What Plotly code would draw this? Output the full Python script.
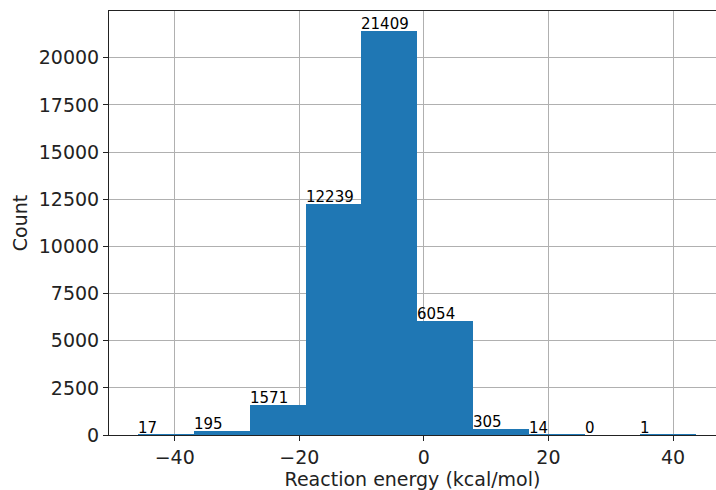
import plotly.graph_objects as go

# Histogram of reaction energies: bin edges (kcal/mol) and counts per bin
bin_edges = [-45.86, -36.90, -27.94, -18.98, -10.03, -1.07, 7.89, 16.85, 25.80, 34.76, 43.72]
counts = [17, 195, 1571, 12239, 21409, 6054, 305, 14, 0, 1]

x_ticks = [-40, -20, 0, 20, 40]
y_ticks = [0, 2500, 5000, 7500, 10000, 12500, 15000, 17500, 20000]

centers = [(a + b) / 2 for a, b in zip(bin_edges[:-1], bin_edges[1:])]
widths = [b - a for a, b in zip(bin_edges[:-1], bin_edges[1:])]

FONT = "DejaVu Sans"
TICK_SIZE = 19

fig = go.Figure(
    go.Bar(
        x=centers,
        y=counts,
        width=widths,
        marker=dict(color="#1f77b4", line=dict(width=0)),
        hoverinfo="x+y",
    )
)

# count labels at the left edge of each bin
for left, c in zip(bin_edges[:-1], counts):
    fig.add_annotation(
        x=left, y=c, text=str(c), showarrow=False,
        xanchor="left", yanchor="bottom", yshift=-4, xshift=-2,
        font=dict(family=FONT, size=15, color="black"),
    )

fig.update_layout(
    width=716, height=490,
    margin=dict(l=109, r=0, t=11, b=55),
    paper_bgcolor="white", plot_bgcolor="white",
    showlegend=False,
    bargap=0,
    font=dict(family=FONT, size=TICK_SIZE, color="#222"),
)

fig.update_xaxes(
    range=[-50.55, 46.9],
    tickvals=x_ticks,
    ticktext=["\u2212" + str(-v) if v < 0 else str(v) for v in x_ticks],
    showgrid=True, gridcolor="#b0b0b0", gridwidth=1,
    showline=True, linecolor="#222", linewidth=1, mirror=True,
    ticks="outside", ticklen=5, tickcolor="#222",
    zeroline=False, layer="above traces",
    title=dict(text="Reaction energy (kcal/mol)", font=dict(size=TICK_SIZE), standoff=4),
    tickfont=dict(size=TICK_SIZE),
)
fig.update_yaxes(
    range=[0, 22480],
    tickvals=y_ticks,
    ticktext=[str(v) for v in y_ticks],
    showgrid=True, gridcolor="#b0b0b0", gridwidth=1,
    showline=True, linecolor="#222", linewidth=1, mirror=False,
    ticks="outside", ticklen=5, tickcolor="#222",
    zeroline=False, layer="above traces",
    title=dict(text="Count", font=dict(size=TICK_SIZE), standoff=6),
    tickfont=dict(size=TICK_SIZE),
)

fig.write_html("out.html")
